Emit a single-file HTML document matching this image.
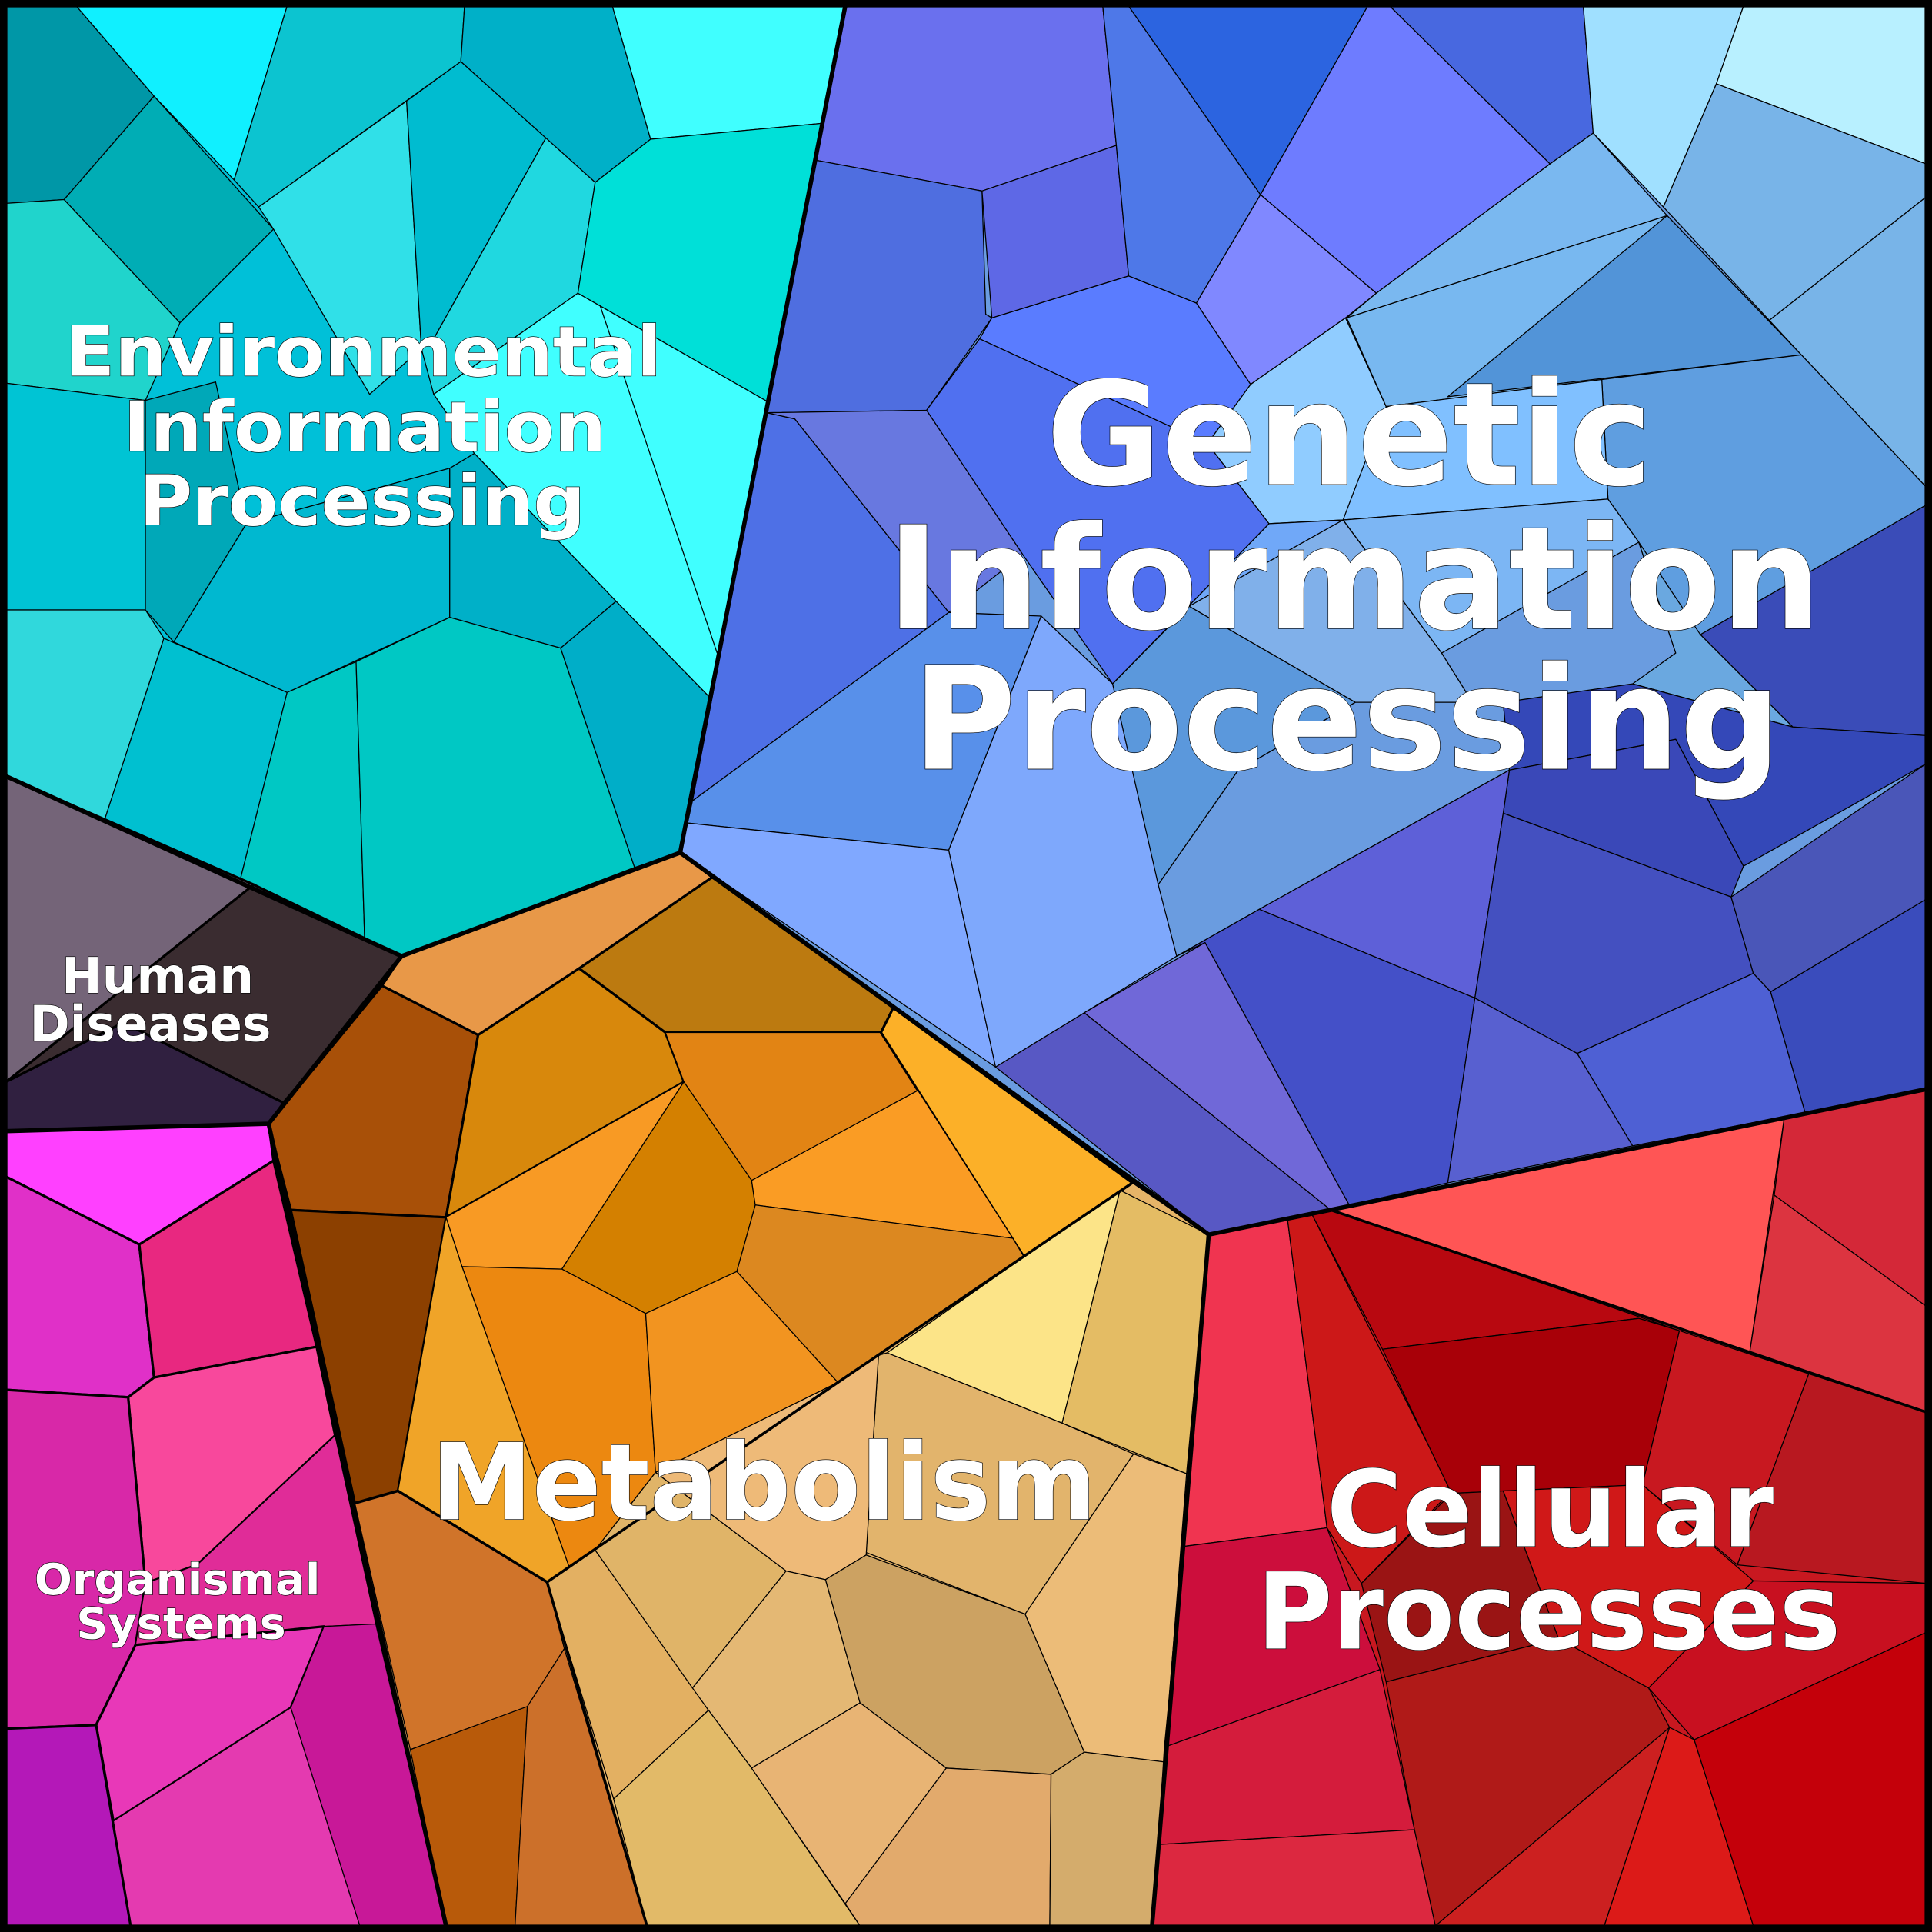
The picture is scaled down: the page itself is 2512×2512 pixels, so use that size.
<!DOCTYPE html>
<html><head><meta charset="utf-8"><style>html,body{margin:0;padding:0;background:#000}svg{display:block}</style></head><body>
<svg width="2512" height="2512" viewBox="0 0 1568 1568" xmlns="http://www.w3.org/2000/svg">
<rect width="1568" height="1568" fill="#000"/>
<g stroke="#000" stroke-width="0.8" stroke-linejoin="round">
<!-- Environmental -->
<polygon points="5,5 686,5 552,692 326,776 5,630" fill="#00c0d8"/>
<polygon points="5,5 62,5 125,78 52,162 5,165" fill="#0097a7"/>
<polygon points="125,78 222,186 146,262 52,162" fill="#00adb5"/>
<polygon points="5,165 52,162 146,262 118,325 5,311" fill="#20d4cc"/>
<polygon points="62,5 233,5 190,146 125,78" fill="#10f0ff"/>
<polygon points="233,5 377,5 374,50 210,168 190,146" fill="#0cc4d0"/>
<polygon points="377,5 497,5 528,113 483,148 374,50" fill="#00b0c8"/>
<polygon points="497,5 686,5 668,100 528,113" fill="#40ffff"/>
<polygon points="210,168 330,82 342,283 300,320 222,186" fill="#30e0e8"/>
<polygon points="330,82 374,50 443,112 352,275 342,283" fill="#00bcd0"/>
<polygon points="443,112 483,148 469,238 352,320 342,283 352,275" fill="#20d8e0"/>
<polygon points="483,148 528,113 668,100 623,326 469,238" fill="#00e0d8"/>
<polygon points="352,320 469,238 623,326 576,566 500,488 385,368" fill="#40ffff"/>
<polyline points="487,248 582,530" fill="none"/>
<polygon points="5,311 118,325 118,495 5,495" fill="#00c4d4"/>
<polygon points="118,325 175,310 200,425 141,521 118,495" fill="#00a8b8"/>
<polygon points="200,425 365,380 365,501 233,562 141,521" fill="#00b8d0"/>
<polygon points="365,380 385,368 500,488 455,526 365,501" fill="#00b0c8"/>
<polygon points="5,495 118,495 133,518 85,665 5,630" fill="#30d8dc"/>
<polygon points="133,518 233,562 194,718 85,665" fill="#00c0d0"/>
<polygon points="233,562 289,537 296,764 194,718" fill="#00c8c4"/>
<polygon points="289,537 365,501 455,526 515,704 326,776 296,764" fill="#00c8c4"/>
<polygon points="455,526 500,488 576,566 552,692 515,704" fill="#00aec8"/>
<!-- Genetic -->
<polygon points="686,5 1563,5 1563,884 981,1002 919,960 552,692" fill="#6a9ce0"/>
<polygon points="686,5 895,5 906,118 797,155 662,130" fill="#6a70ee"/>
<polygon points="662,130 797,155 800,255 805,258 752,333 622,335" fill="#4f6ee0"/>
<polygon points="797,155 906,118 916,224 805,258" fill="#5e68e6"/>
<polygon points="895,5 916,5 1023,158 971,246 916,224 906,118" fill="#4e78e8"/>
<polygon points="916,5 1110,5 1023,158" fill="#2c64e0"/>
<polygon points="1110,5 1128,5 1258,133 1117,238 1023,158" fill="#6e7cff"/>
<polygon points="1128,5 1285,5 1293,108 1258,133" fill="#4868e0"/>
<polygon points="1023,158 1117,238 1092,258 1015,312 971,246" fill="#8088ff"/>
<polygon points="805,258 916,224 971,246 1015,312 980,360 795,275" fill="#5a7cff"/>
<polygon points="795,275 980,360 1030,425 903,555 830,450 752,333" fill="#5070f0"/>
<polygon points="622,335 752,333 830,450 770,497 645,340" fill="#6878e0"/>
<polygon points="622,335 645,340 770,497 562,650" fill="#4e70e6"/>
<polygon points="562,650 770,497 845,500 770,690 558,668" fill="#5890ea"/>
<polygon points="558,668 770,690 808,866 552,692" fill="#80a8ff"/>
<polygon points="770,690 845,500 903,555 955,776 808,866" fill="#7ea8fc"/>
<polygon points="1092,258 1125,330 1300,308 1305,405 1090,422 1030,425 980,360 1015,312" fill="#90ccff"/>
<polygon points="1117,238 1258,133 1293,108 1353,175 1093,258" fill="#7ab8f0"/>
<polygon points="1093,258 1353,175 1462,288 1125,330" fill="#78b8f0"/>
<polygon points="1175,322 1353,175 1462,288" fill="#5294d8"/>
<polygon points="1285,5 1415,5 1393,68 1350,168 1293,108" fill="#a0e0ff"/>
<polygon points="1415,5 1563,5 1563,133 1393,68" fill="#b8f0ff"/>
<polygon points="1393,68 1563,133 1563,160 1436,260 1350,168" fill="#78b4e8"/>
<polygon points="1563,160 1563,395 1462,288 1436,260" fill="#78b4e8"/>
<polygon points="1462,288 1563,395 1563,410 1360,530 1330,440 1305,405 1300,308" fill="#5f9ee0"/>
<polygon points="1125,330 1300,308 1305,405 1090,422" fill="#80c0ff"/>
<polygon points="1090,422 1305,405 1330,440 1170,530" fill="#7cb6f4"/>
<polygon points="1030,425 1090,422 1170,530 1195,570 965,492 903,555" fill="#70a8f8"/>
<polygon points="965,492 1090,422 1170,530 1195,570 1100,570" fill="#80b0ea"/>
<polygon points="903,555 965,492 1100,570 1005,625 940,718" fill="#5b98dc"/>
<polygon points="940,718 1005,625 1100,570 1220,570 1225,625 1022,738 955,776" fill="#6a9ce0"/>
<polygon points="1563,410 1563,597 1455,590 1380,515" fill="#3a4cb8"/>
<polygon points="1330,440 1380,515 1455,590 1325,555 1360,530" fill="#6aa8e0"/>
<polygon points="1220,570 1325,555 1455,590 1563,597 1563,620 1415,703 1360,600 1225,625" fill="#3448b8"/>
<polygon points="1225,625 1360,600 1415,703 1405,728 1220,660" fill="#3a48b8"/>
<polygon points="1022,738 1225,625 1220,660 1197,810" fill="#5e60d8"/>
<polygon points="955,776 1022,738 1197,810 1175,960 1095,978 978,765" fill="#4450c8"/>
<polygon points="1220,660 1405,728 1423,790 1280,855 1197,810" fill="#4450c0"/>
<polygon points="1405,728 1563,620 1563,730 1437,805 1423,790" fill="#4a56b8"/>
<polygon points="1437,805 1563,730 1563,884 1465,903" fill="#3a4cbc"/>
<polygon points="1280,855 1423,790 1437,805 1465,903 1325,930" fill="#4e60d4"/>
<polygon points="1197,810 1280,855 1325,930 1175,960" fill="#5860d0"/>
<polygon points="880,822 978,765 1095,978 1080,982" fill="#7068d8"/>
<polygon points="808,866 880,822 1080,982 981,1002" fill="#5858c4"/>
<!-- Human diseases -->
<polygon points="5,630 206,718 5,878" fill="#746478" stroke-width="2"/>
<polygon points="5,878 206,718 326,776 310,800 230,895 100,830" fill="#3a2c30" stroke-width="2"/>
<polygon points="5,878 100,830 230,895 218,912 5,918" fill="#302040" stroke-width="2"/>
<!-- Organismal -->
<polygon points="5,918 218,912 222,942 113,1010 5,955" fill="#ff40ff" stroke-width="2"/>
<polygon points="5,955 113,1010 125,1118 104,1134 5,1128" fill="#e030c8" stroke-width="2"/>
<polygon points="113,1010 222,942 257,1093 125,1118" fill="#e82880" stroke-width="2"/>
<polygon points="104,1134 125,1118 257,1093 272,1165 160,1270 118,1285" fill="#f8489c" stroke-width="2"/>
<polygon points="5,1128 104,1134 118,1285 110,1335 78,1400 5,1403" fill="#d828a8" stroke-width="2"/>
<polygon points="118,1285 160,1270 272,1165 305,1318 263,1320 110,1335" fill="#e02c98"/>
<polygon points="78,1400 110,1335 263,1320 236,1386 92,1478" fill="#e838b8" stroke-width="2"/>
<polygon points="236,1386 263,1320 305,1318 362,1563 292,1563" fill="#c81898"/>
<polygon points="92,1478 236,1386 292,1563 106,1563" fill="#e43ab0"/>
<polygon points="5,1403 78,1400 106,1563 5,1563" fill="#b418b8" stroke-width="2"/>
<!-- Metabolism -->
<polygon points="552,692 919,960 981,1002 935,1563 362,1563 218,912 310,800 326,776" fill="#e6b468"/>
<polygon points="326,776 552,692 578,712 470,786 388,840 310,800" fill="#e89848" stroke-width="2"/>
<polygon points="578,712 725,818 715,838 540,838 470,786" fill="#bc7a10" stroke-width="2"/>
<polygon points="310,800 388,840 362,988 236,982 218,912" fill="#a85008" stroke-width="2"/>
<polygon points="236,982 362,988 323,1210 288,1220" fill="#8c4000" stroke-width="2"/>
<polygon points="388,840 470,786 540,838 555,878 362,988" fill="#d8880c" stroke-width="2"/>
<polygon points="540,838 715,838 745,885 610,958 555,878" fill="#e28414"/>
<polygon points="715,838 725,818 919,960 831,1020 745,885" fill="#fcb028" stroke-width="2"/>
<polygon points="362,988 555,878 456,1030 375,1028" fill="#f89a24"/>
<polygon points="555,878 610,958 613,978 598,1032 524,1066 456,1030" fill="#d48000"/>
<polygon points="610,958 745,885 822,1005 613,978" fill="#fa9c24"/>
<polygon points="613,978 822,1005 831,1020 680,1122 598,1032" fill="#dc8820"/>
<polygon points="375,1028 456,1030 524,1066 532,1195 483,1258 462,1272" fill="#ec8810"/>
<polygon points="362,988 375,1028 462,1272 444,1284 323,1210" fill="#f0a428"/>
<polygon points="524,1066 598,1032 680,1122 532,1195" fill="#f29420"/>
<polygon points="288,1220 323,1210 444,1284 458,1338 428,1385 333,1420" fill="#d0742a"/>
<polygon points="333,1420 428,1385 418,1563 362,1563" fill="#b85a0a"/>
<polygon points="428,1385 458,1338 525,1563 418,1563" fill="#cc702a"/>
<polygon points="720,1098 831,1020 909,966 862,1155" fill="#fce488"/>
<polygon points="909,966 981,1002 963,1196 862,1155" fill="#e4bc64"/>
<polygon points="713,1100 720,1098 862,1155 920,1180 832,1310 703,1260" fill="#e2b46c"/>
<polygon points="680,1122 713,1100 703,1262 670,1282 638,1275 532,1195" fill="#eeba78"/>
<polygon points="444,1284 483,1258 575,1388 498,1460" fill="#e3b062"/>
<polygon points="483,1258 532,1195 638,1275 562,1370" fill="#e0b468"/>
<polygon points="562,1370 638,1275 670,1282 698,1382 610,1435 575,1388" fill="#e4b874"/>
<polygon points="670,1282 703,1262 832,1310 880,1422 853,1440 768,1435 698,1382" fill="#cca262"/>
<polygon points="920,1180 963,1196 945,1430 880,1422 832,1310" fill="#ecbc78"/>
<polygon points="498,1460 575,1388 610,1435 698,1563 525,1563" fill="#e2ba68"/>
<polygon points="610,1435 698,1382 768,1435 686,1545" fill="#e8b474"/>
<polygon points="686,1545 768,1435 853,1440 852,1563 698,1563" fill="#e2aa6c"/>
<polygon points="853,1440 880,1422 945,1430 935,1563 852,1563" fill="#d4ac6c"/>
<!-- Cellular -->
<polygon points="981,1002 1563,884 1563,1563 935,1563" fill="#c81820"/>
<polygon points="981,1002 1045,990 1077,1240 961,1255" fill="#f03450"/>
<polygon points="961,1255 1077,1240 1120,1355 945,1418" fill="#cc0e3c"/>
<polygon points="945,1418 1120,1355 1148,1485 940,1497" fill="#d41c3c"/>
<polygon points="940,1497 1148,1485 1165,1563 935,1563" fill="#dc2840"/>
<polygon points="1045,990 1065,986 1178,1210 1105,1285 1077,1240" fill="#cc1818"/>
<polygon points="1065,986 1080,982 1363,1080 1330,1070 1122,1095" fill="#b80810"/>
<polygon points="1080,982 1448,908 1420,1098" fill="#ff5555"/>
<polygon points="1448,908 1563,884 1563,1060 1440,970" fill="#d42838"/>
<polygon points="1440,970 1563,1060 1563,1146 1420,1098" fill="#dc3440"/>
<polygon points="1122,1095 1330,1070 1363,1080 1333,1205 1178,1212" fill="#a80008"/>
<polygon points="1363,1080 1468,1115 1410,1270 1333,1205" fill="#c81820"/>
<polygon points="1468,1115 1563,1146 1563,1285 1410,1270" fill="#b81820"/>
<polygon points="1105,1285 1178,1212 1220,1210 1265,1330 1125,1365" fill="#9a1414"/>
<polygon points="1220,1210 1333,1205 1423,1283 1338,1370 1265,1330" fill="#d01818"/>
<polygon points="1423,1283 1563,1285 1563,1325 1375,1412 1338,1370" fill="#c81020"/>
<polygon points="1125,1365 1265,1330 1338,1370 1355,1402 1165,1563 1148,1485" fill="#b01a18"/>
<polygon points="1165,1563 1355,1402 1302,1563" fill="#cc2020"/>
<polygon points="1355,1402 1375,1412 1423,1563 1302,1563" fill="#dc1a18"/>
<polygon points="1375,1412 1563,1325 1563,1563 1423,1563" fill="#c4000a"/>
</g>
<g fill="none" stroke="#000" stroke-width="2.2" stroke-linejoin="round">
<polyline points="919,960 680,1122 444,1284 525,1563"/>
<polyline points="444,1284 323,1210 288,1220"/>
<polyline points="1080,982 1563,1146"/>
</g>
<g fill="none" stroke="#000" stroke-width="3.5" stroke-linejoin="round">
<polyline points="686,5 552,692 326,776 5,630"/>
<polyline points="552,692 981,1002 1563,884"/>
<polyline points="981,1002 935,1563"/>
<polyline points="326,776 218,912 5,918"/>
<polyline points="218,912 362,1563"/>
</g>
<rect x="3" y="3" width="1562" height="1562" fill="none" stroke="#000" stroke-width="6"/>
<g font-family="'DejaVu Sans','Liberation Sans',sans-serif" font-weight="bold" fill="#fff" stroke="#000" stroke-width="0.8" text-anchor="middle" paint-order="stroke">
<text x="295" y="305" font-size="56" textLength="484" lengthAdjust="spacingAndGlyphs">Environmental</text>
<text x="296" y="366" font-size="56" textLength="392" lengthAdjust="spacingAndGlyphs">Information</text>
<text x="294" y="426" font-size="56" textLength="362" lengthAdjust="spacingAndGlyphs">Processing</text>
<text x="1095" y="393" font-size="116" textLength="492" lengthAdjust="spacingAndGlyphs">Genetic</text>
<text x="1099" y="510" font-size="116" textLength="758" lengthAdjust="spacingAndGlyphs">Information</text>
<text x="1093" y="624" font-size="116" textLength="705" lengthAdjust="spacingAndGlyphs">Processing</text>
<text x="128" y="806" font-size="40" textLength="156" lengthAdjust="spacingAndGlyphs">Human</text>
<text x="122" y="845" font-size="40" textLength="196" lengthAdjust="spacingAndGlyphs">Diseases</text>
<text x="144" y="1294" font-size="35" textLength="232" lengthAdjust="spacingAndGlyphs">Organismal</text>
<text x="147" y="1330" font-size="35" textLength="170" lengthAdjust="spacingAndGlyphs">Systems</text>
<text x="620" y="1233" font-size="86" textLength="540" lengthAdjust="spacingAndGlyphs">Metabolism</text>
<text x="1258" y="1255" font-size="86" textLength="363" lengthAdjust="spacingAndGlyphs">Cellular</text>
<text x="1257" y="1338" font-size="86" textLength="474" lengthAdjust="spacingAndGlyphs">Processes</text>
</g>
</svg>
</body></html>
